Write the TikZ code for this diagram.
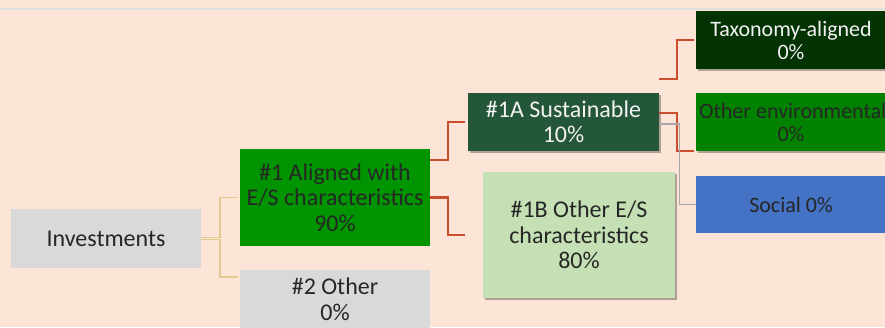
\documentclass[tikz,border=0pt]{standalone}
\usepackage{fontspec}
\setmainfont{Carlito}
\usepackage{tikz}
\usetikzlibrary{shadows}

\definecolor{peach}{HTML}{FCE4D6}
\definecolor{boxgrey}{HTML}{D9D9D9}
\definecolor{midgreen}{RGB}{0,148,0}
\definecolor{darkgreen}{RGB}{36,86,58}
\definecolor{palegreen}{HTML}{C5E0B4}
\definecolor{deepgreen}{RGB}{3,50,3}
\definecolor{envgreen}{RGB}{0,130,0}
\definecolor{socialblue}{HTML}{4472C4}
\definecolor{textgrey}{HTML}{262626}
\definecolor{linetan}{RGB}{222,204,140}
\definecolor{rust}{RGB}{200,78,44}

\begin{document}
\begin{tikzpicture}[x=1pt,y=-1pt,
        box/.style={rectangle,inner xsep=3pt,inner ysep=0pt,align=flush center,text width=184pt,
            text=textgrey,font=\fontsize{24}{25.5}\selectfont},
        right box/.style={box,font=\fontsize{22}{23}\selectfont},
        shadowed/.style={drop shadow={shadow xshift=2pt,shadow yshift=-2pt,opacity=.3,fill=black}},
        tan line/.style={draw=linetan,line width=1.5pt},
        rust line/.style={draw=rust,line width=2.2pt},
        grey line/.style={draw=black!35,line width=1.2pt}]

    \useasboundingbox (0,0) rectangle (885,327);
    \fill[peach] (0,0) rectangle (885,327);
    \draw[black!12,line width=2pt] (0,9) -- (885,9);

    \node[box,fill=boxgrey,minimum height=59pt] (inv) at (106,238.5) {Investments};
    \node[box,fill=midgreen,minimum height=97pt] (aligned) at (335,197.5) {\#1 Aligned with\\E/S characteristics\\90\%};
    \node[box,fill=boxgrey,minimum height=59pt] (other) at (335,299.5) {\#2 Other\\0\%};
    \node[box,shadowed,fill=darkgreen,text=white!95!black,minimum height=58pt,text width=185pt] (sust) at (563.5,122) {\#1A Sustainable\\10\%};
    \node[box,shadowed,fill=palegreen,minimum height=126pt,text width=186pt] (esother) at (579,235) {\#1B Other E/S\\characteristics\\80\%};
    \node[right box,shadowed,fill=deepgreen,text=white!95!black,minimum height=58pt] (taxo) at (791,40) {Taxonomy-aligned\\0\%};
    \node[right box,shadowed,fill=envgreen,minimum height=58pt] (env) at (791,122) {\mbox{Other environmental}\\0\%};
    \node[right box,fill=socialblue,minimum height=57pt] (social) at (791,204.5) {Social 0\%};

    \draw[tan line] ([yshift=1pt]inv.east) -- ++(19,0) |- ([xshift=-2pt]aligned.west);
    \draw[tan line] ([yshift=-1pt]inv.east) -- ++(19,0) |- ([xshift=-2pt,yshift=22.5pt]other.west);

    \draw[rust line] ([yshift=37.5pt]aligned.east) -- ++(18,0) |- ([xshift=-3pt]sust.west);
    \draw[rust line] (aligned.east) -- ++(18,0) |- ([xshift=-18pt]esother.west);
    \draw[rust line] ([yshift=14pt]sust.north east) -- ++(18,0) |- ([xshift=-2pt]taxo.west);
    \draw[rust line] ([yshift=9pt]sust.east) -- ++(18,0) |- ([xshift=-2pt]env.south west);
    \draw[grey line] ([yshift=-2pt]sust.east) -- ++(20,0) |- (social.west);

\end{tikzpicture}
\end{document}
